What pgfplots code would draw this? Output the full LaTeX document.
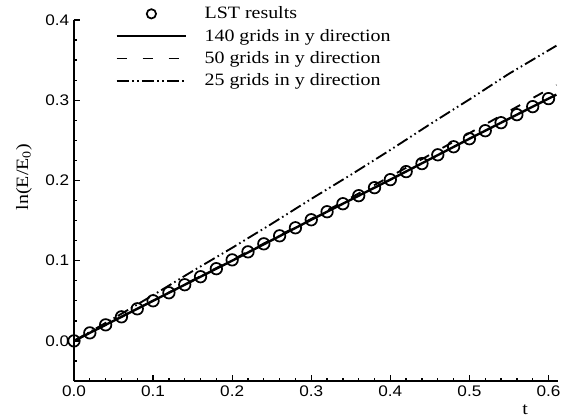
\documentclass[border=0pt]{standalone}
\usepackage{fontspec}
\setmainfont{Liberation Serif}
\newfontfamily\legfont[FakeStretch=1.15]{Liberation Serif}
\newfontfamily\arial[FakeStretch=1.12]{Liberation Sans}
\usepackage{pgfplots}
\pgfplotsset{compat=1.18}
\pgfplotsset{
    longline legend/.style={legend image code/.code={\draw[##1] (0pt,0pt) -- (52pt,0pt);}},
    circle legend/.style={legend image code/.code={\draw[##1,mark size=3.5pt] plot coordinates {(26pt,0pt)};}},
}

\begin{document}
\begin{tikzpicture}
\useasboundingbox (-55.5pt,-27.75pt) rectangle (381pt,285.75pt);
\begin{axis}[
    scale only axis,
    width=363pt,
    height=270.75pt,
    at={(0,0)},
    anchor=south west,
    xmin=0, xmax=0.612,
    ymin=-0.05, ymax=0.4,
    axis x line=bottom,
    axis y line=left,
    axis line style={-, line width=1.3pt},
    tick align=inside,
    xtick={0,0.1,0.2,0.3,0.4,0.5,0.6},
    ytick={0,0.1,0.2,0.3,0.4},
    minor xtick={0,0.02,...,0.6},
    minor ytick={-0.05,-0.025,...,0.4},
    major tick length=4.5pt,
    minor tick length=2.6pt,
    every tick/.style={black, line width=1pt},
    tick label style={font=\fontsize{11.5}{12}\arial},
    /pgf/number format/fixed,
    /pgf/number format/fixed zerofill,
    /pgf/number format/precision=1,
    /pgf/number format/assume math mode=true,
    xlabel={t},
    xlabel style={at={(axis description cs:0.932,-0.094)}, anchor=base, font=\fontsize{13}{15}\legfont},
    ylabel={ln(E/E\textsubscript{0})},
    ylabel style={at={(axis description cs:-0.095,0.565)}, anchor=base, font=\fontsize{13}{15}\legfont},
    legend style={
        draw=none, fill=none,
        at={(axis description cs:0.077,1.052)},
        anchor=north west,
        font=\fontsize{13}{15}\legfont,
        row sep=2.2pt,
        column sep=11pt
    },
    legend cell align=left,
    longline legend,
]

% LST results
\addplot[only marks, mark=o, mark size=4.3pt, line width=1.3pt, circle legend]
coordinates {
    (0.00,0.000) (0.02,0.010) (0.04,0.020) (0.06,0.030) (0.08,0.040)
    (0.10,0.050) (0.12,0.060) (0.14,0.070) (0.16,0.080) (0.18,0.090)
    (0.20,0.101) (0.22,0.111) (0.24,0.121) (0.26,0.131) (0.28,0.141)
    (0.30,0.151) (0.32,0.161) (0.34,0.171) (0.36,0.181) (0.38,0.191)
    (0.40,0.201) (0.42,0.211) (0.44,0.221) (0.46,0.232) (0.48,0.242)
    (0.50,0.252) (0.52,0.262) (0.54,0.272) (0.56,0.282) (0.58,0.292)
    (0.60,0.302)
};

% 140 grids
\addplot[black, line width=1.8pt] coordinates {
    (0.00,0.000) (0.10,0.050) (0.20,0.100) (0.30,0.151)
    (0.40,0.201) (0.50,0.252) (0.61,0.307)
};

% 50 grids
\addplot[black, line width=1.4pt, dash pattern=on 8pt off 11.5pt] coordinates {
    (0.00,0.000) (0.10,0.050) (0.20,0.101) (0.30,0.152)
    (0.40,0.205) (0.50,0.259) (0.61,0.319)
};

% 25 grids
\addplot[black, line width=1.4pt,
    dash pattern=on 9pt off 2.5pt on 1.2pt off 2.5pt on 1.2pt off 2.5pt] coordinates {
    (0.00,0.000) (0.05,0.028) (0.10,0.057) (0.15,0.087) (0.20,0.116)
    (0.25,0.146) (0.30,0.177) (0.35,0.207) (0.40,0.238) (0.45,0.270)
    (0.50,0.301) (0.55,0.333) (0.61,0.368)
};

\legend{LST results, 140 grids in y direction, 50 grids in y direction, 25 grids in y direction}
\end{axis}
\end{tikzpicture}
\end{document}
